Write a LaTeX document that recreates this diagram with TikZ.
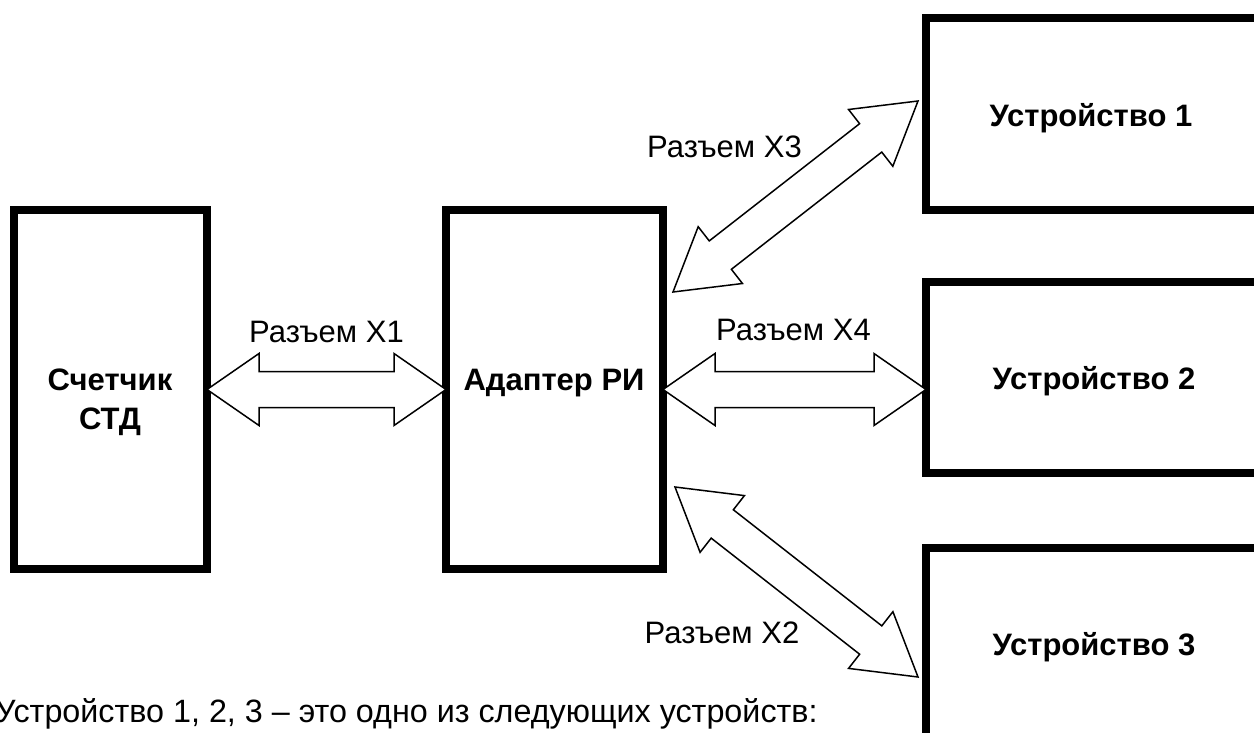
\documentclass[tikz,border=0pt]{standalone}
\usepackage{fontspec}
\setmainfont{Liberation Sans}
\usetikzlibrary{calc}
\begin{document}
\begin{tikzpicture}[x=1pt,y=1pt,
  unit/.style={draw=black, line width=8pt, rectangle, outer sep=0pt, inner sep=0pt},
  boldlbl/.style={font=\fontsize{31}{37}\selectfont\bfseries, anchor=base, inner sep=0pt},
  plainlbl/.style={font=\fontsize{31}{37}\selectfont, anchor=base, inner sep=0pt},
  blhead/.store in=\blhead, blhalf/.store in=\blhalf, blshaft/.store in=\blshaft,
  blhead=52, blhalf=36, blshaft=18,
  % hollow double-headed block arrow from the start point to the target point
  link/.style={draw=black, line width=1.5pt, fill=white, line join=miter,
    to path={let \p1=(\tikztostart), \p2=(\tikztotarget),
                 \n1={atan2(\y2-\y1,\x2-\x1)} in
      -- ($(\p1)+({\n1}:\blhead pt)+({\n1+90}:\blhalf pt)$)
      -- ($(\p1)+({\n1}:\blhead pt)+({\n1+90}:\blshaft pt)$)
      -- ($(\p2)+({\n1+180}:\blhead pt)+({\n1+90}:\blshaft pt)$)
      -- ($(\p2)+({\n1+180}:\blhead pt)+({\n1+90}:\blhalf pt)$)
      -- (\p2)
      -- ($(\p2)+({\n1+180}:\blhead pt)+({\n1-90}:\blhalf pt)$)
      -- ($(\p2)+({\n1+180}:\blhead pt)+({\n1-90}:\blshaft pt)$)
      -- ($(\p1)+({\n1}:\blhead pt)+({\n1-90}:\blshaft pt)$)
      -- ($(\p1)+({\n1}:\blhead pt)+({\n1-90}:\blhalf pt)$)
      -- cycle}},
]
\useasboundingbox (0,0) rectangle (1254,-733);
\clip (0,0) rectangle (1254,-733);

% blocks
\node[unit, minimum width=193pt, minimum height=359pt] (sch) at (110.5,-389.5) {};
\node[unit, minimum width=217pt, minimum height=359pt] (ad)  at (554.5,-389.5) {};
\node[unit, minimum width=374pt, minimum height=192pt] (dev1) at (1113,-114) {};
\node[unit, minimum width=374pt, minimum height=191pt] (dev2) at (1113,-377.5) {};
\node[unit, minimum width=374pt, minimum height=252pt] (dev3) at (1113,-674) {};

% block captions
\node[boldlbl] (schA) at (110,-390) {Счетчик};
\node[boldlbl] (schB) at (110,-429) {СТД};
\node[boldlbl] (adT) at (554,-390) {Адаптер РИ};
\node[boldlbl] (dev1T) at (1091,-127) {Устройство 1};
\node[boldlbl] (dev2T) at (1094,-389) {Устройство 2};
\node[boldlbl] (dev3T) at (1094,-655) {Устройство 3};

% arrow end points
\coordinate (x4b) at (dev2.west |- ad.east);
\coordinate (x3a) at ($(ad.north east)+(10,-82)$);
\coordinate (x3b) at ($(dev1.west)+(-8,13)$);
\coordinate (x2a) at ($(ad.south east)+(12,82)$);
\coordinate (x2b) at ($(dev3.north west)+(-8,-129)$);

% connectors
\draw[link] (sch.east) to (ad.west);
\draw[link] (ad.east) to (x4b);
\draw[link, blhead=60] (x3a) to (x3b);
\draw[link, blhead=60] (x2a) to (x2b);

% connector labels
\node[plainlbl] (lx1) at (326.5,-342) {Разъем X1};
\node[plainlbl] (lx4) at (793.5,-340) {Разъем X4};
\node[plainlbl] (lx3) at (724.5,-158) {Разъем X3};
\node[plainlbl] (lx2) at (722,-643) {Разъем X2};

% note
\node[plainlbl, font=\fontsize{32.3}{38}\selectfont, anchor=base west] (note) at (-5,-722) {Устройство 1, 2, 3 – это одно из следующих устройств:};
\end{tikzpicture}
\end{document}
